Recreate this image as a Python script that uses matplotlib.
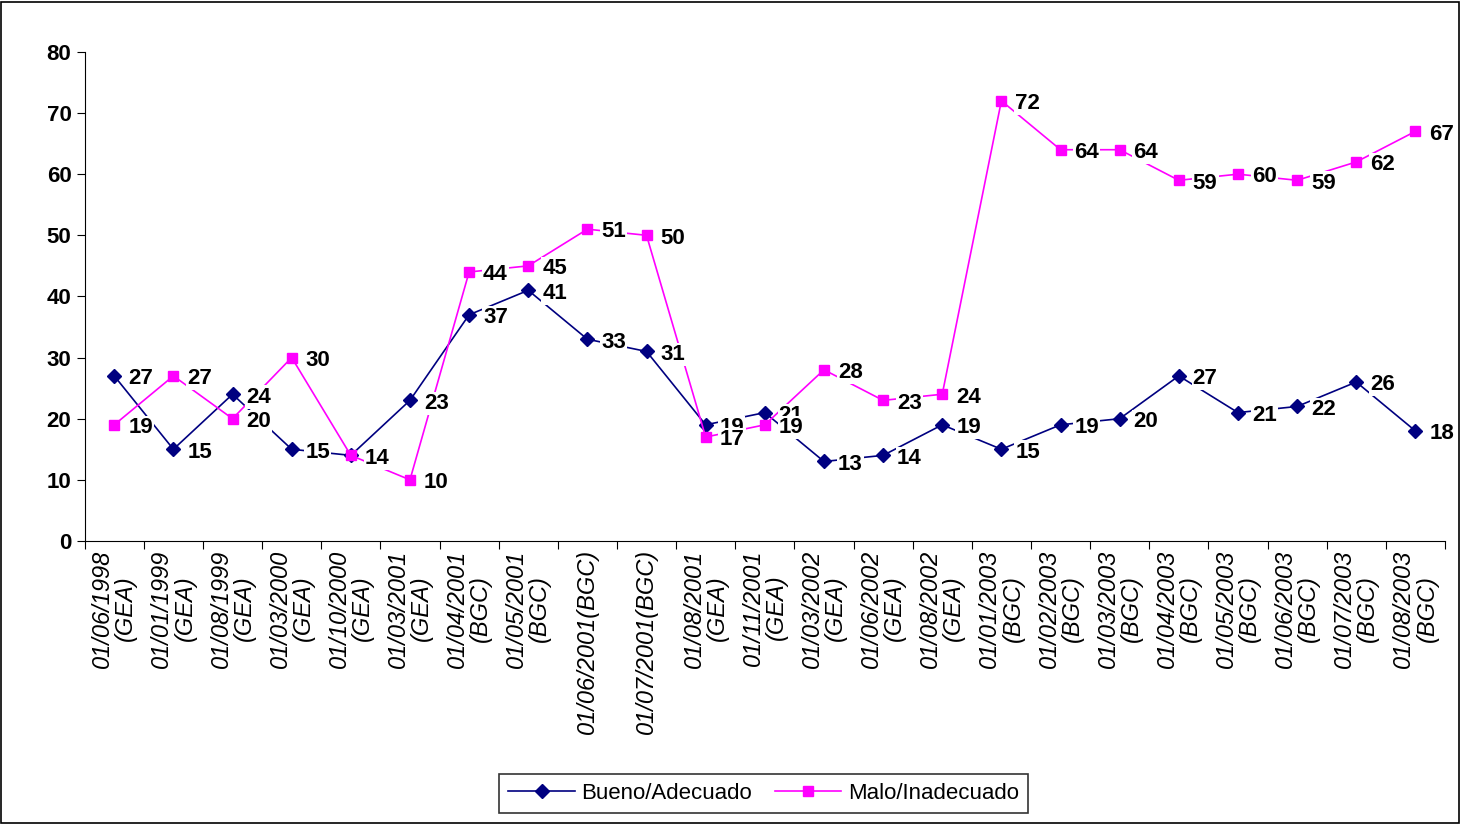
import numpy as np
import matplotlib
matplotlib.use('Agg')
from matplotlib import pyplot as plt

plt.rcParams['font.family'] = ['Liberation Sans', 'DejaVu Sans']

dates = ['01/06/1998\n(GEA)', '01/01/1999\n(GEA)', '01/08/1999\n(GEA)', '01/03/2000\n(GEA)',
         '01/10/2000\n(GEA)', '01/03/2001\n(GEA)', '01/04/2001\n(BGC)', '01/05/2001\n(BGC)',
         '01/06/2001(BGC)', '01/07/2001(BGC)', '01/08/2001\n(GEA)', '01/11/2001\n(GEA)',
         '01/03/2002\n(GEA)', '01/06/2002\n(GEA)', '01/08/2002\n(GEA)', '01/01/2003\n(BGC)',
         '01/02/2003\n(BGC)', '01/03/2003\n(BGC)', '01/04/2003\n(BGC)', '01/05/2003\n(BGC)',
         '01/06/2003\n(BGC)', '01/07/2003\n(BGC)', '01/08/2003\n(BGC)']
bueno = [27, 15, 24, 15, 14, 23, 37, 41, 33, 31, 19, 21, 13, 14, 19, 15, 19, 20, 27, 21, 22, 26, 18]
malo = [19, 27, 20, 30, 14, 10, 44, 45, 51, 50, 17, 19, 28, 23, 24, 72, 64, 64, 59, 60, 59, 62, 67]

fig = plt.figure(figsize=(14.6, 8.24), dpi=100)
fig.patches.append(plt.Rectangle((0.001, 0.001), 0.998, 0.997, transform=fig.transFigure,
                                 fill=False, edgecolor='black', linewidth=1.2))
ax = fig.add_axes([0.058, 0.3435, 0.9317, 0.5935])
x = np.arange(len(dates))
ax.plot(x, bueno, color='#000080', marker='D', markersize=7, linewidth=1.2,
        label='Bueno/Adecuado', zorder=3)
ax.plot(x, malo, color='#FF00FF', marker='s', markersize=7, markerfacecolor='#FF00FF',
        markeredgecolor='#FF00FF', linewidth=1.2, label='Malo/Inadecuado', zorder=3)
for series in (bueno, malo):
    for i, v in enumerate(series):
        ax.annotate(str(v), (i, v), xytext=(10, -2), textcoords='offset points',
                    ha='left', va='center', fontsize=16, fontweight='bold', zorder=4,
                    annotation_clip=False,
                    bbox=dict(boxstyle='square,pad=0.05', fc='white', ec='none'))

ax.set_xlim(-0.5, len(dates) - 0.5)
ax.set_ylim(0, 80)
ax.set_yticks(range(0, 81, 10))
ax.tick_params(axis='y', labelsize=16, direction='out', length=6)
for lab in ax.get_yticklabels():
    lab.set_fontweight('bold')
ax.set_xticks(np.arange(len(dates) + 1) - 0.5)
ax.set_xticklabels([])
ax.tick_params(axis='x', direction='out', length=6)
ax.set_xticks(x, minor=True)
ax.set_xticklabels(dates, minor=True, rotation=90, fontsize=17, style='italic',
                   va='top', ha='center', linespacing=1.0)
ax.tick_params(axis='x', which='minor', length=0, pad=6)
for s in ('top', 'right'):
    ax.spines[s].set_visible(False)

leg = fig.legend(loc='lower center', bbox_to_anchor=(0.523, 0.0), ncol=2, fontsize=16,
                 frameon=True, fancybox=False, edgecolor='black', handlelength=3.0,
                 borderpad=0.4, columnspacing=1.0, handletextpad=0.3)
leg.get_frame().set_linewidth(1.2)
fig.savefig('out.png', dpi=100)
